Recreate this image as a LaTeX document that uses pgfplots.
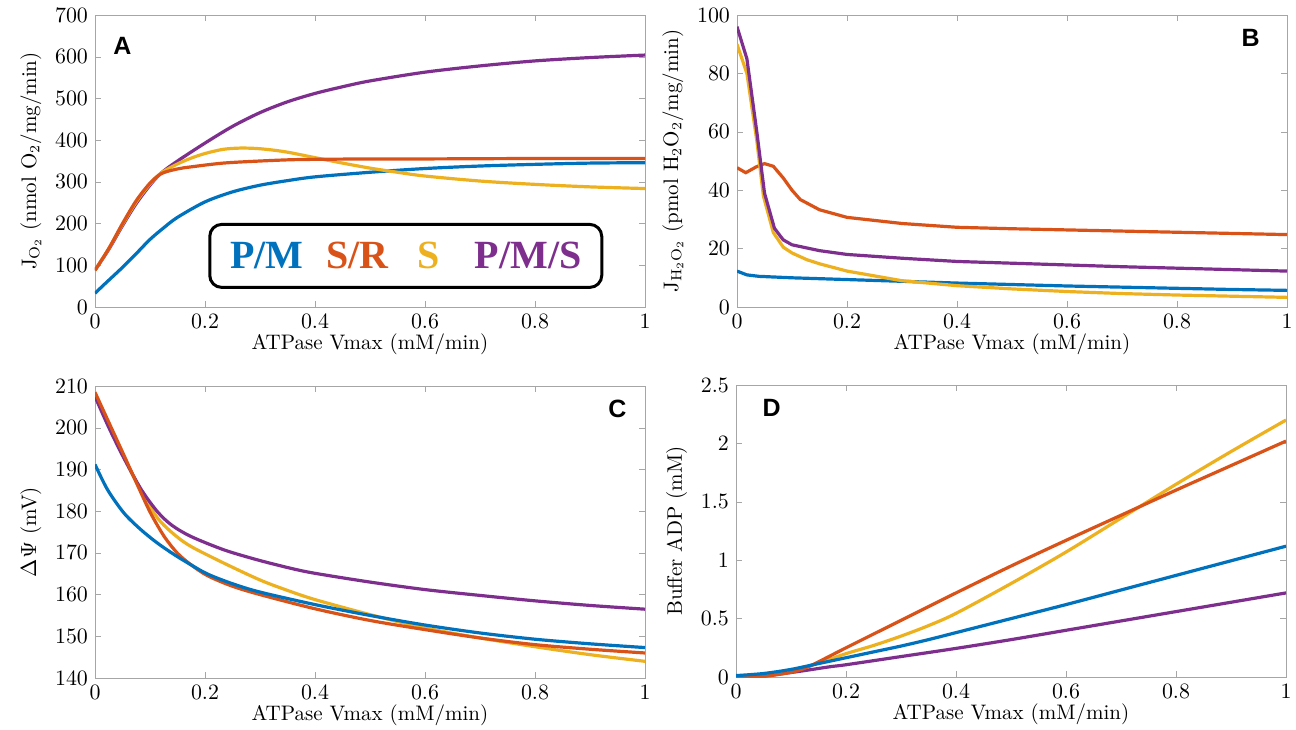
\documentclass[border=0pt]{standalone}
\usepackage{pgfplots}
\pgfplotsset{compat=1.18}
\usepackage{fontspec}
\newfontfamily\lblfont{Liberation Sans}
\newfontfamily\legfont{Liberation Serif}

\definecolor{mblue}{rgb}{0,0.447,0.741}
\definecolor{morange}{rgb}{0.85,0.325,0.098}
\definecolor{myellow}{rgb}{0.929,0.694,0.125}
\definecolor{mpurple}{rgb}{0.494,0.184,0.556}

\tikzset{panelletter/.style={font=\lblfont\bfseries\fontsize{12.5}{14}\selectfont}}
\pgfplotsset{
  panel/.style={
    scale only axis, width=275pt, height=146pt,
    xmin=0, xmax=1, xtick={0,0.2,0.4,0.6,0.8,1},
    tick align=inside, major tick length=3pt,
    axis line style={gray!70}, tick style={gray!70},
    tick label style={font=\fontsize{11}{12}\selectfont, /pgf/number format/fixed},
    label style={font=\fontsize{10.5}{12}\selectfont},
    xlabel={ATPase Vmax (mM/min)},
    xlabel style={yshift=4pt},
    scaled ticks=false,
    every axis plot/.append style={line width=1.6pt, no markers},
  },
}

\begin{document}
\begin{tikzpicture}
\path[use as bounding box] (0,0) rectangle (648pt,-364.5pt);

% A
\begin{axis}[panel, at={(47.5pt,-153.5pt)}, anchor=south west,
  ymin=0, ymax=700, ytick={0,100,...,700},
  ylabel={J$_{\mathrm{O}_2}$ (nmol O$_2$/mg/min)}]
\addplot[mblue, smooth] coordinates {(0,33)(0.02,58)(0.05,95)(0.075,128)(0.1,162)(0.125,190)(0.15,215)(0.2,252)(0.25,276)(0.3,292)(0.35,303)(0.4,312)(0.5,323)(0.6,332)(0.7,338)(0.8,342)(0.9,345)(1,346)};
\addplot[mpurple, smooth] coordinates {(0,88)(0.025,138)(0.05,195)(0.075,248)(0.1,292)(0.121,322)(0.15,350)(0.2,393)(0.25,433)(0.3,466)(0.35,492)(0.4,512)(0.45,528)(0.5,542)(0.6,563)(0.7,578)(0.8,590)(0.9,598)(1,604)};
\addplot[myellow, smooth] coordinates {(0,88)(0.025,140)(0.05,198)(0.075,252)(0.1,295)(0.121,322)(0.15,343)(0.175,357)(0.2,368)(0.233,378)(0.264,381)(0.294,380)(0.325,376)(0.355,370)(0.4,358)(0.45,345)(0.5,333)(0.55,323)(0.6,314)(0.7,302)(0.8,294)(0.9,288)(1,284)};
\addplot[morange, smooth] coordinates {(0,88)(0.025,140)(0.05,200)(0.075,255)(0.1,297)(0.121,320)(0.15,331)(0.175,336)(0.233,345)(0.3,350)(0.355,353)(0.4,354)(0.5,355)(0.6,355)(0.8,356)(1,356)};
\node[panelletter] at (rel axis cs:0.05,0.895) {A};
\node[draw=black, rounded corners=6pt, line width=1.5pt, minimum width=196pt, minimum height=31.5pt,
  font=\legfont\bfseries\fontsize{20}{22}\selectfont, fill=white]
  at (rel axis cs:0.565,0.175)
  {\textcolor{mblue}{P/M}\hspace{11.5pt}\textcolor{morange}{S/R}\hspace{14.5pt}\textcolor{myellow}{S}\hspace{17.5pt}\textcolor{mpurple}{P/M/S}};
\end{axis}

% B
\begin{axis}[panel, at={(368.5pt,-153.5pt)}, anchor=south west,
  ymin=0, ymax=100, ytick={0,20,...,100},
  ylabel={J$_{\mathrm{H}_2\mathrm{O}_2}$ (pmol H$_2$O$_2$/mg/min)}]
\addplot[mblue] coordinates {(0,12.3)(0.018,11)(0.04,10.5)(0.1,10)(0.2,9.4)(0.3,8.8)(0.4,8.2)(0.5,7.7)(0.6,7.2)(0.7,6.8)(0.8,6.4)(0.9,6)(1,5.7)};
\addplot[morange] coordinates {(0,47.7)(0.016,46)(0.035,48)(0.05,49.1)(0.066,48.2)(0.084,44.2)(0.1,40)(0.115,36.8)(0.15,33.3)(0.2,30.7)(0.3,28.6)(0.4,27.3)(0.5,26.8)(0.6,26.4)(0.7,26)(0.8,25.6)(0.9,25.2)(1,24.8)};
\addplot[myellow] coordinates {(0,90)(0.018,80)(0.036,57)(0.048,38)(0.066,25.5)(0.084,20.5)(0.1,18.5)(0.127,16.2)(0.15,14.8)(0.2,12.3)(0.3,9.0)(0.4,7.3)(0.5,6.2)(0.6,5.3)(0.7,4.6)(0.8,4.1)(0.9,3.7)(1,3.3)};
\addplot[mpurple] coordinates {(0,96)(0.018,85)(0.036,60)(0.05,39)(0.068,27)(0.084,23)(0.1,21.3)(0.15,19.3)(0.2,18)(0.3,16.7)(0.4,15.6)(0.5,15)(0.6,14.4)(0.7,13.8)(0.8,13.3)(0.9,12.8)(1,12.3)};
\node[panelletter] at (rel axis cs:0.934,0.92) {B};
\end{axis}

% C
\begin{axis}[panel, at={(47.5pt,-339pt)}, anchor=south west,
  ymin=140, ymax=210, ytick={140,150,...,210},
  ylabel={$\Delta\Psi$ (mV)}]
\addplot[myellow, smooth] coordinates {(0,208)(0.015,203.4)(0.03,199.1)(0.053,192.9)(0.084,184.8)(0.114,178.3)(0.145,174.3)(0.175,171.5)(0.235,167.5)(0.3,163.5)(0.35,161)(0.4,158.8)(0.5,155.2)(0.6,152)(0.7,149.6)(0.8,147.5)(0.9,145.6)(1,144)};
\addplot[mpurple, smooth] coordinates {(0,207.5)(0.015,203)(0.03,198.7)(0.053,192.6)(0.084,185.2)(0.114,179.8)(0.14,176.6)(0.175,173.9)(0.235,170.7)(0.296,168.3)(0.356,166.3)(0.4,165.1)(0.5,163)(0.6,161.2)(0.7,159.8)(0.8,158.5)(0.9,157.4)(1,156.5)};
\addplot[morange, smooth] coordinates {(0,208.5)(0.015,204.2)(0.03,199.9)(0.053,193.3)(0.084,184.3)(0.102,179.3)(0.126,173.9)(0.15,169.9)(0.175,167.1)(0.205,164.5)(0.25,162)(0.3,160)(0.4,156.6)(0.5,153.8)(0.6,151.6)(0.7,149.6)(0.8,148)(0.9,146.9)(1,146)};
\addplot[mblue, smooth] coordinates {(0,191.2)(0.023,185.1)(0.053,179.5)(0.084,175.5)(0.114,172.3)(0.145,169.5)(0.175,167.1)(0.205,164.9)(0.25,162.6)(0.3,160.6)(0.4,157.6)(0.5,155)(0.6,152.7)(0.7,150.8)(0.8,149.3)(0.9,148.2)(1,147.3)};
\node[panelletter] at (rel axis cs:0.95,0.92) {C};
\end{axis}

% D
\begin{axis}[panel, at={(368pt,-338.5pt)}, anchor=south west,
  ymin=0, ymax=2.5, ytick={0,0.5,1,1.5,2,2.5},
  ylabel={Buffer ADP (mM)}]
\addplot[mpurple, smooth] coordinates {(0,0)(0.05,0.01)(0.11,0.045)(0.171,0.088)(0.2,0.105)(0.3,0.175)(0.4,0.245)(0.5,0.32)(0.6,0.4)(0.7,0.48)(0.8,0.56)(0.9,0.64)(1,0.72)};
\addplot[myellow, smooth] coordinates {(0,0)(0.05,0.008)(0.11,0.06)(0.15,0.12)(0.2,0.2)(0.25,0.27)(0.3,0.35)(0.35,0.44)(0.4,0.545)(0.5,0.8)(0.6,1.07)(0.7,1.36)(0.8,1.65)(0.9,1.93)(1,2.2)};
\addplot[morange, smooth] coordinates {(0,0)(0.05,0.005)(0.1,0.04)(0.125,0.075)(0.15,0.13)(0.2,0.25)(0.3,0.485)(0.4,0.72)(0.5,0.95)(0.6,1.17)(0.7,1.385)(0.8,1.6)(0.9,1.81)(1,2.02)};
\addplot[mblue, smooth] coordinates {(0,0.012)(0.05,0.03)(0.1,0.065)(0.15,0.115)(0.2,0.165)(0.25,0.215)(0.3,0.265)(0.35,0.32)(0.4,0.38)(0.5,0.5)(0.6,0.62)(0.7,0.745)(0.8,0.87)(0.9,0.995)(1,1.12)};
\node[panelletter] at (rel axis cs:0.065,0.92) {D};
\end{axis}
\end{tikzpicture}
\end{document}
